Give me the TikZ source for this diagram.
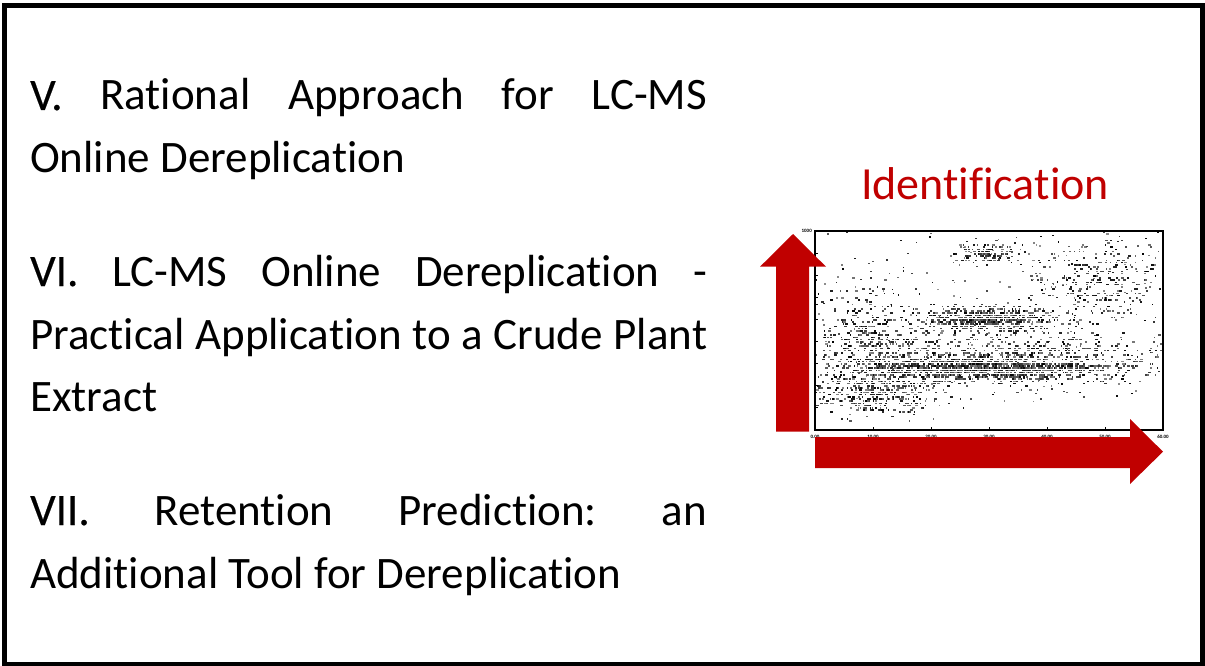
\documentclass[tikz,border=0pt]{standalone}
\usepackage{fontspec}
\setmainfont{Carlito}[RawFeature={-liga}]
\newfontfamily\numfont{Carlito}[FakeBold=0.3,RawFeature={-liga}]
\definecolor{darkred}{HTML}{C00000}

% one cloud of spectrum points: count, centre x, centre y, spread x, spread y
\newcommand{\pointcloud}[5]{%
  \foreach \k in {1,...,#1}{%
    \pgfmathsetmacro\px{#2+#4*(rand+rand+rand)}%
    \pgfmathsetmacro\py{round((#3+#5*(rand+rand+rand))/2.2)*2.2}%
    \pgfmathsetmacro\pw{1+2.2*rnd}%
    \pgfmathsetmacro\pg{int(45+55*rnd)}%
    \fill[black!\pg] (\px,\py) rectangle ++(\pw,1.5);
  }%
}

\begin{document}
\begin{tikzpicture}[x=1pt,y=-1pt,
  lineitem/.style={anchor=base west,inner sep=0pt,font=\fontsize{45}{62}\selectfont},
  bigarrow/.style={fill=darkred,draw=none},
  ticklabel/.style={inner sep=0pt,font=\fontsize{5}{5}\selectfont\bfseries}]
\useasboundingbox (0,0) rectangle (1205,666);
\fill[white] (0,0) rectangle (1205,666);

% outer frame
\draw[line width=5pt] (4.5,5.5) rectangle (1202.5,664);

% list of chapters
\node[lineitem] (l5a) at (30,110) {\hbox to 677pt{{\numfont V.}\hfil Rational\hfil Approach\hfil for\hfil LC-MS}};
\node[lineitem] (l5b) at (30,172) {Online Dereplication};
\node[lineitem] (l6a) at (30,286) {\hbox to 677pt{{\numfont VI.}\hfil LC-MS\hfil Online\hfil Dereplication\hfil -}};
\node[lineitem] (l6b) at (30,349) {\hbox to 677pt{Practical\hfil Application\hfil to\hfil a\hfil Crude\hfil Plant}};
\node[lineitem] (l6c) at (30,411) {Extract};
\node[lineitem] (l7a) at (30,525) {\hbox to 677pt{{\numfont VII.}\hfil Retention\hfil Prediction:\hfil an}};
\node[lineitem] (l7b) at (30,588) {Additional Tool for Dereplication};

% heading of the plot
\node[anchor=base,inner sep=0pt,text=darkred,font=\fontsize{46}{56}\selectfont] (ident) at (985,199) {Identification};

% scatter of LC-MS features
\pgfmathsetseed{4711}
\begin{scope}
\clip (815,231) rectangle (1163,430);
\pointcloud{1000}{975}{368}{60}{6}
\pointcloud{700}{1000}{355}{85}{14}
\pointcloud{500}{985}{318}{30}{6}
\pointcloud{120}{985}{252}{16}{5}
\pointcloud{300}{1100}{280}{35}{20}
\pointcloud{300}{870}{330}{26}{22}
\pointcloud{400}{875}{393}{35}{11}
\foreach \k in {1,...,220}{%
  \pgfmathsetmacro\px{815+348*rnd}%
  \pgfmathsetmacro\py{231+170*rnd}%
  \pgfmathsetmacro\pg{int(40+60*rnd)}%
  \fill[black!\pg] (\px,\py) rectangle ++(1.8,1.5);
}
\end{scope}

% plot frame, ticks and tick labels
\draw[line width=1.3pt] (815,231) rectangle (1163,430);
\foreach \i in {1,...,8}{\draw[line width=0.8pt] (815,231+22.1*\i) -- ++(3,0);}
\foreach \i in {0,...,6}{\draw[line width=0.8pt] (815+58*\i,430) -- ++(0,-3);}
\node[ticklabel,anchor=east] (ymax) at (812,231) {1000};
\foreach \i/\t in {0/0.00,1/10.00,2/20.00,3/30.00,4/40.00,5/50.00,6/60.00}{%
  \node[ticklabel] (xt\i) at (815+58*\i,437) {\t};}

% axis arrows
\path[bigarrow] (776,431.7) -- (776,266.7) -- (760,266.7) -- (793,234) -- (826,266.7) -- (809,266.7) -- (809,431.7) -- cycle;
\path[bigarrow] (815,437) -- (1130,437) -- (1130,419) -- (1163,451.7) -- (1130,484) -- (1130,468) -- (815,468) -- cycle;
\end{tikzpicture}
\end{document}
